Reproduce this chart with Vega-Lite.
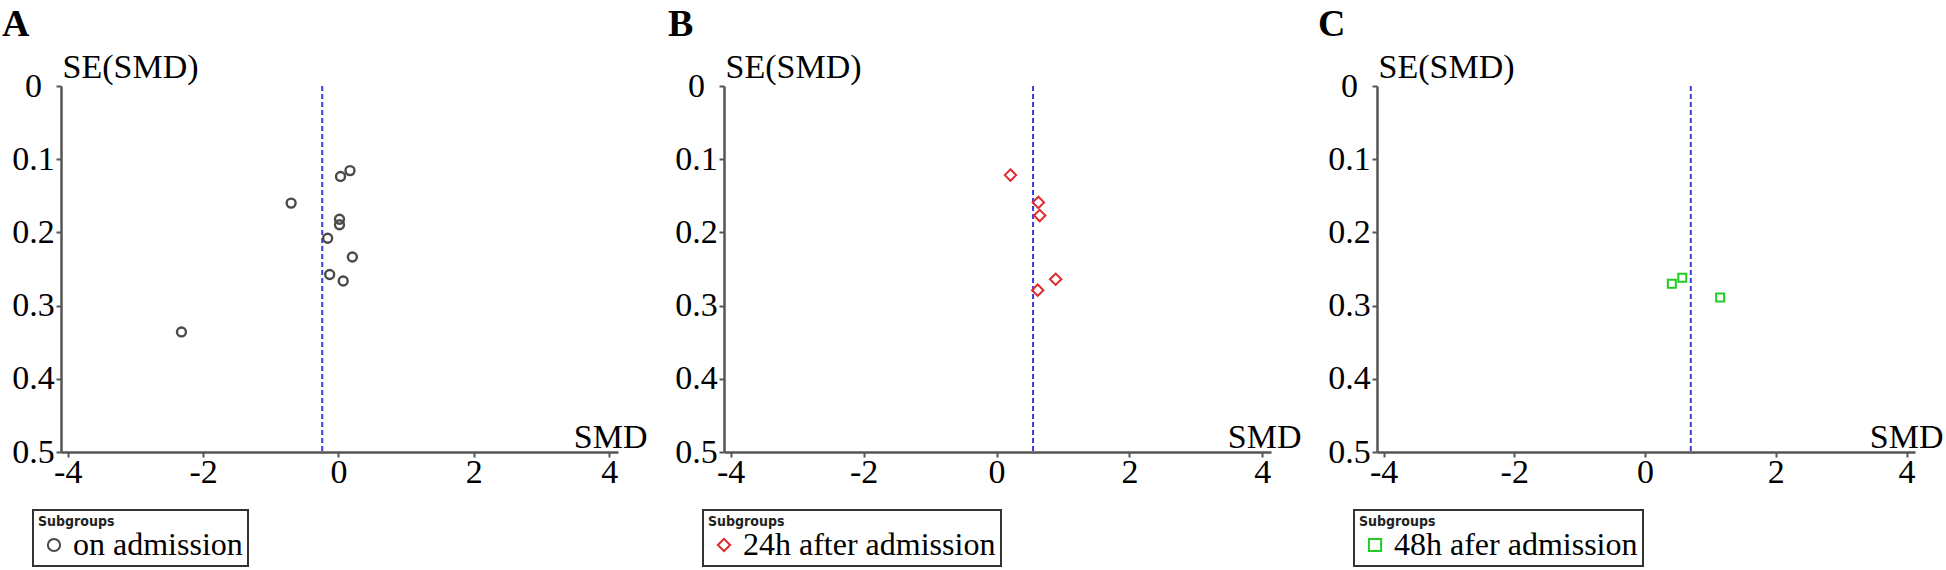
{
  "$schema": "https://vega.github.io/schema/vega-lite/v6.json",
  "background": "white",
  "padding": {"left": 2, "top": 6, "right": 0, "bottom": 0},
  "config": {
    "view": {"stroke": null},
    "font": "Liberation Serif",
    "axis": {
      "grid": false,
      "domainColor": "#555555",
      "domainWidth": 2.5,
      "tickColor": "#555555",
      "tickWidth": 2,
      "tickSize": 5,
      "labelFont": "Liberation Serif",
      "labelFontSize": 34,
      "labelColor": "#000000",
      "titleFont": "Liberation Serif",
      "titleFontSize": 34,
      "titleFontWeight": "normal",
      "titleColor": "#000000"
    },
    "axisX": {"labelPadding": -2},
    "axisY": {"labelAlign": "center", "labelPadding": 23},
    "legend": {
      "strokeColor": "#333333",
      "strokeWidth": 2,
      "padding": 5,
      "titleFont": "Liberation Sans Narrow, DejaVu Sans Condensed, sans-serif",
      "titleFontSize": 14,
      "titleFontWeight": "bold",
      "titleColor": "#222222",
      "titlePadding": 0,
      "labelFont": "Liberation Serif",
      "labelFontSize": 32,
      "labelColor": "#000000",
      "labelLimit": 1000,
      "labelOffset": 3,
      "symbolSize": 150,
      "symbolStrokeWidth": 2
    },
    "title": {"font": "Liberation Serif", "fontSize": 38, "fontWeight": "bold", "anchor": "start", "frame": "group", "color": "#000000"}
  },
  "datasets": {
    "a": [
      {"smd": -2.32, "se": 0.336, "subgroup": "on admission"},
      {"smd": -0.70, "se": 0.160, "subgroup": "on admission"},
      {"smd": 0.03, "se": 0.1235, "subgroup": "on admission"},
      {"smd": 0.17, "se": 0.1156, "subgroup": "on admission"},
      {"smd": 0.015, "se": 0.182, "subgroup": "on admission"},
      {"smd": 0.015, "se": 0.1895, "subgroup": "on admission"},
      {"smd": -0.16, "se": 0.208, "subgroup": "on admission"},
      {"smd": 0.205, "se": 0.2336, "subgroup": "on admission"},
      {"smd": -0.13, "se": 0.2575, "subgroup": "on admission"},
      {"smd": 0.07, "se": 0.2664, "subgroup": "on admission"}
    ],
    "b": [
      {"smd": 0.21, "se": 0.1217, "subgroup": "24h after admission"},
      {"smd": 0.63, "se": 0.159, "subgroup": "24h after admission"},
      {"smd": 0.65, "se": 0.177, "subgroup": "24h after admission"},
      {"smd": 0.89, "se": 0.264, "subgroup": "24h after admission"},
      {"smd": 0.62, "se": 0.279, "subgroup": "24h after admission"}
    ],
    "c": [
      {"smd": 0.41, "se": 0.270, "subgroup": "48h afer admission"},
      {"smd": 0.57, "se": 0.262, "subgroup": "48h afer admission"},
      {"smd": 1.15, "se": 0.289, "subgroup": "48h afer admission"}
    ],
    "pa": [{"smd": -0.24}],
    "pb": [{"smd": 0.55}],
    "pc": [{"smd": 0.70}]
  },
  "bounds": "flush",
  "spacing": 106,
  "resolve": {
    "scale": {"x": "independent", "y": "independent", "color": "independent", "shape": "independent"},
    "legend": {"color": "independent", "shape": "independent"}
  },
  "hconcat": [
    {
      "title": {"text": "A", "dx": -59, "offset": 6},
      "width": 557,
      "height": 366,
      "layer": [
        {
          "data": {"name": "pa"},
          "mark": {"type": "rule", "color": "#3a3ae0", "strokeWidth": 2, "strokeDash": [5, 3]},
          "encoding": {"x": {"field": "smd", "type": "quantitative", "scale": {"domain": [-4.1, 4.13], "nice": false, "zero": false}}}
        },
        {
          "data": {"name": "a"},
          "mark": {"type": "point", "filled": false, "strokeWidth": 2.4, "size": 80, "opacity": 1},
          "encoding": {
            "x": {"field": "smd", "type": "quantitative", "scale": {"domain": [-4.1, 4.13], "nice": false, "zero": false},
              "axis": {"values": [-4, -2, 0, 2, 4], "labelExpr": "toString(datum.value)", "title": "SMD", "titleX": 586, "titleY": -5, "titleAlign": "right", "titleBaseline": "alphabetic"}},
            "y": {"field": "se", "type": "quantitative", "scale": {"domain": [0, 0.5], "reverse": true, "nice": false},
              "axis": {"values": [0, 0.1, 0.2, 0.3, 0.4, 0.5], "format": "~g", "title": "SE(SMD)", "titleAngle": 0, "titleX": 1, "titleY": -9, "titleAlign": "left", "titleBaseline": "alphabetic"}},
            "color": {"field": "subgroup", "type": "nominal", "scale": {"range": ["#4a4a4a"]},
              "legend": {"title": "Subgroups", "orient": "none", "legendX": -28, "legendY": 424}},
            "shape": {"field": "subgroup", "type": "nominal", "scale": {"range": ["circle"]},
              "legend": {"title": "Subgroups", "orient": "none", "legendX": -28, "legendY": 424}}
          }
        }
      ]
    },
    {
      "title": {"text": "B", "dx": -56, "offset": 6},
      "width": 547,
      "height": 366,
      "layer": [
        {
          "data": {"name": "pb"},
          "mark": {"type": "rule", "color": "#3a3ae0", "strokeWidth": 2, "strokeDash": [5, 3]},
          "encoding": {"x": {"field": "smd", "type": "quantitative", "scale": {"domain": [-4.1, 4.13], "nice": false, "zero": false}}}
        },
        {
          "data": {"name": "b"},
          "mark": {"type": "point", "filled": false, "strokeWidth": 2, "size": 130, "opacity": 1},
          "encoding": {
            "x": {"field": "smd", "type": "quantitative", "scale": {"domain": [-4.1, 4.13], "nice": false, "zero": false},
              "axis": {"values": [-4, -2, 0, 2, 4], "labelExpr": "toString(datum.value)", "title": "SMD", "titleX": 577, "titleY": -5, "titleAlign": "right", "titleBaseline": "alphabetic"}},
            "y": {"field": "se", "type": "quantitative", "scale": {"domain": [0, 0.5], "reverse": true, "nice": false},
              "axis": {"values": [0, 0.1, 0.2, 0.3, 0.4, 0.5], "format": "~g", "title": "SE(SMD)", "titleAngle": 0, "titleX": 1, "titleY": -9, "titleAlign": "left", "titleBaseline": "alphabetic"}},
            "color": {"field": "subgroup", "type": "nominal", "scale": {"range": ["#e0282e"]},
              "legend": {"title": "Subgroups", "orient": "none", "legendX": -21, "legendY": 424}},
            "shape": {"field": "subgroup", "type": "nominal", "scale": {"range": ["diamond"]},
              "legend": {"title": "Subgroups", "orient": "none", "legendX": -21, "legendY": 424}}
          }
        }
      ]
    },
    {
      "title": {"text": "C", "dx": -59, "offset": 6},
      "width": 538,
      "height": 366,
      "layer": [
        {
          "data": {"name": "pc"},
          "mark": {"type": "rule", "color": "#3a3ae0", "strokeWidth": 2, "strokeDash": [5, 3]},
          "encoding": {"x": {"field": "smd", "type": "quantitative", "scale": {"domain": [-4.1, 4.13], "nice": false, "zero": false}}}
        },
        {
          "data": {"name": "c"},
          "mark": {"type": "point", "filled": false, "strokeWidth": 2, "size": 64, "opacity": 1},
          "encoding": {
            "x": {"field": "smd", "type": "quantitative", "scale": {"domain": [-4.1, 4.13], "nice": false, "zero": false},
              "axis": {"values": [-4, -2, 0, 2, 4], "labelExpr": "toString(datum.value)", "title": "SMD", "titleX": 566, "titleY": -5, "titleAlign": "right", "titleBaseline": "alphabetic"}},
            "y": {"field": "se", "type": "quantitative", "scale": {"domain": [0, 0.5], "reverse": true, "nice": false},
              "axis": {"values": [0, 0.1, 0.2, 0.3, 0.4, 0.5], "format": "~g", "title": "SE(SMD)", "titleAngle": 0, "titleX": 1, "titleY": -9, "titleAlign": "left", "titleBaseline": "alphabetic"}},
            "color": {"field": "subgroup", "type": "nominal", "scale": {"range": ["#22cc22"]},
              "legend": {"title": "Subgroups", "orient": "none", "legendX": -23, "legendY": 424}},
            "shape": {"field": "subgroup", "type": "nominal", "scale": {"range": ["square"]},
              "legend": {"title": "Subgroups", "orient": "none", "legendX": -23, "legendY": 424}}
          }
        }
      ]
    }
  ]
}
